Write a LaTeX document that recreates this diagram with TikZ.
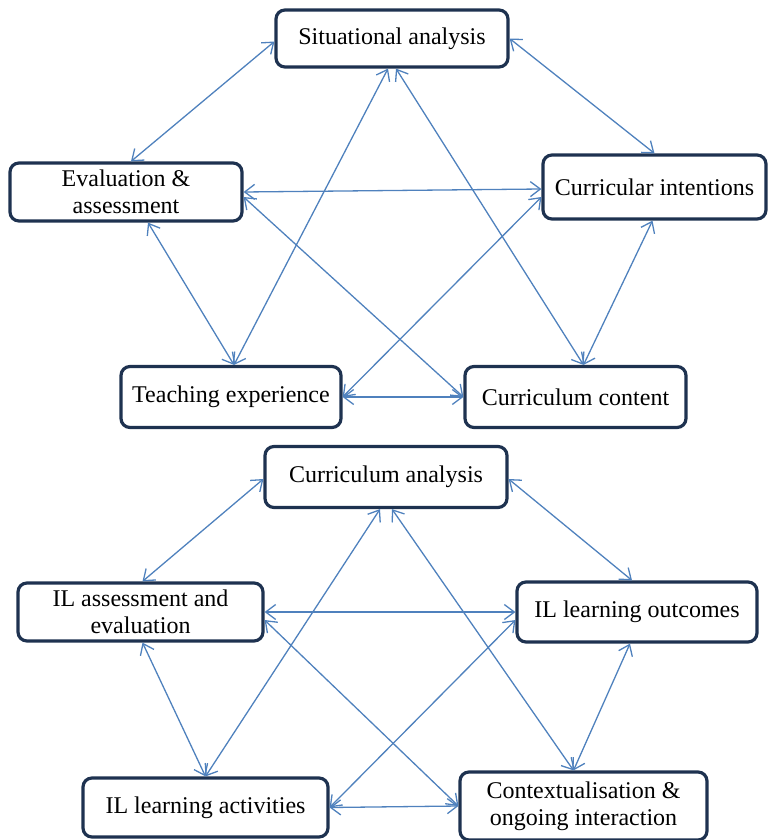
\documentclass[tikz,border=0pt]{standalone}
\usepackage{fontspec}
\setmainfont{Liberation Serif}
\usetikzlibrary{arrows.meta,calc}
\definecolor{boxline}{RGB}{30,50,80}
\definecolor{arrowblue}{RGB}{79,129,189}
\begin{document}
\begin{tikzpicture}[x=1pt,y=-1pt,
  stage/.style 2 args={draw=boxline, line width=3.2pt, rounded corners=9pt,
    fill=white, align=center, font=\fontsize{24}{27}\selectfont,
    inner sep=0pt, minimum width=#1, minimum height=#2},
  link/.style={draw=arrowblue, line width=1.3pt,
    {Straight Barb[length=10pt,width=15pt]}-{Straight Barb[length=10pt,width=15pt]}}]
\useasboundingbox (0,0) rectangle (768,840);

% upper cycle
\node[stage={232pt}{57pt}] (sa) at (392,38.5) {Situational analysis};
\node[stage={232pt}{58pt}] (ea) at (126,192) {Evaluation \&\\assessment};
\node[stage={223pt}{64pt}] (ci) at (654.5,187) {Curricular intentions};
\node[stage={220pt}{61pt}] (te) at (231,397) {Teaching experience};
\node[stage={221pt}{61pt}] (cc) at (575.5,397) {Curriculum content};

\draw[link] ($(sa.west)+(0,3)$) -- ($(ea.north)+(5,0)$);
\draw[link] (sa.east) -- (ci.north);
\draw[link] ($(sa.south)+(-4,0)$) -- ($(te.north)+(3,0)$);
\draw[link] ($(sa.south)+(4,0)$) -- ($(cc.north)+(8,0)$);
\draw[link] (ea.east) -- ($(ci.west)+(0,2)$);
\draw[link] ($(ea.south)+(22,0)$) -- ($(te.north)+(3,0)$);
\draw[link] ($(ea.east)+(0,5)$) -- (cc.west);
\draw[link] ($(ci.west)+(0,10)$) -- (te.east);
\draw[link] ($(ci.south)+(-2,0)$) -- ($(cc.north)+(8,0)$);
\draw[link] (te.east) -- (cc.west);

% lower cycle
\node[stage={242pt}{61pt}] (ca) at (386,477) {Curriculum analysis};
\node[stage={245pt}{58pt}] (ia) at (140.5,612) {IL assessment and\\evaluation};
\node[stage={240pt}{60pt}] (io) at (637,612) {IL learning outcomes};
\node[stage={245pt}{59pt}] (la) at (205.5,807.5) {IL learning activities};
\node[stage={247pt}{68pt}] (cx) at (583.5,806) {Contextualisation \&\\ongoing interaction};

\draw[link] ($(ca.west)+(0,2)$) -- ($(ia.north)+(2,0)$);
\draw[link] ($(ca.east)+(0,2)$) -- ($(io.north)+(-5,0)$);
\draw[link] ($(ca.south)+(-6,0)$) -- (la.north);
\draw[link] ($(ca.south)+(6,0)$) -- ($(cx.north)+(-10,0)$);
\draw[link] (ia.east) -- (io.west);
\draw[link] ($(ia.south)+(2,0)$) -- (la.north);
\draw[link] ($(ia.east)+(0,8)$) -- (cx.west);
\draw[link] ($(io.west)+(0,8)$) -- (la.east);
\draw[link] ($(io.south)+(-7,0)$) -- ($(cx.north)+(-10,0)$);
\draw[link] (la.east) -- (cx.west);
\end{tikzpicture}
\end{document}
